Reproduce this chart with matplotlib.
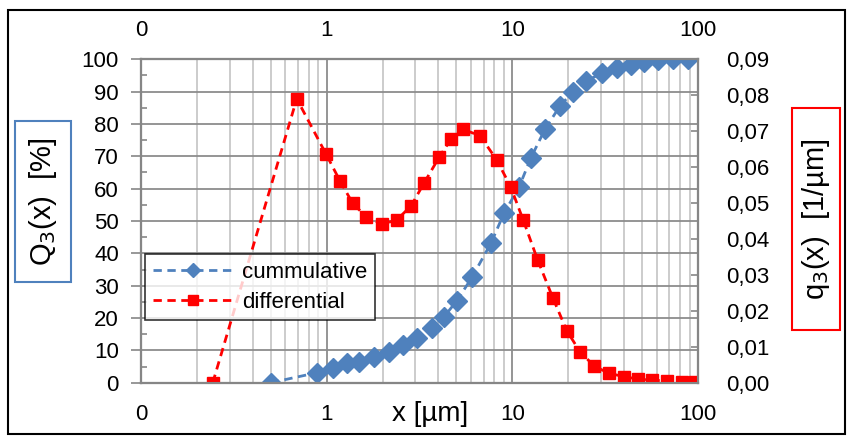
import matplotlib
matplotlib.use("Agg")
import matplotlib.pyplot as plt
from matplotlib.patches import Rectangle
from matplotlib.ticker import FixedLocator, FixedFormatter, NullFormatter

plt.rcParams['font.family'] = ['Liberation Sans', 'DejaVu Sans']

# particle size distribution data
x_cum = [0.50, 0.888, 1.083, 1.288, 1.494, 1.80, 2.168, 2.579, 3.068, 3.694,
         4.288, 5.037, 6.067, 7.68, 9.02, 10.87, 12.61, 15.0, 18.07, 21.23,
         24.95, 30.41, 36.63, 43.58, 51.2, 60.9, 73.3, 88.3]
q_cum = [0.0, 3.1, 4.5, 6.1, 6.5, 7.9, 9.6, 11.7, 13.8, 16.8,
         20.4, 25.4, 32.6, 43.2, 52.4, 60.5, 69.6, 78.4, 85.6, 90.0,
         93.3, 95.7, 97.4, 98.2, 99.1, 99.8, 100.0, 100.0]

x_diff = [0.2435, 0.690, 0.993, 1.181, 1.382, 1.630, 1.988, 2.385, 2.848, 3.358,
          4.030, 4.660, 5.447, 6.703, 8.241, 9.80, 11.42, 13.70, 16.50, 19.63,
          23.15, 27.65, 33.18, 39.96, 47.34, 56.33, 67.86, 81.7, 96.3]
q_diff = [0.0, 0.0790, 0.0636, 0.0561, 0.0499, 0.0462, 0.0441, 0.0453, 0.0492, 0.0557,
          0.0627, 0.0677, 0.0705, 0.0687, 0.0620, 0.0545, 0.0454, 0.0341, 0.0237, 0.0145,
          0.0086, 0.0046, 0.0026, 0.0017, 0.0010, 0.0007, 0.0005, 0.0002, 0.0001]

x_tick_vals = [0.1, 1, 10, 100]
x_tick_labels = ["0", "1", "10", "100"]
left_ticks = list(range(0, 101, 10))
right_ticks = [i / 100 for i in range(10)]
right_labels = [f"{v:.2f}".replace(".", ",") for v in right_ticks]

BLUE = "#4F81BD"
RED = "#FF0000"
GRID_DARK = "#8C8C8C"
GRID_LIGHT = "#C8C8C8"
SPINE = "#868686"
FS = 16

W, H = 848, 436
fig = plt.figure(figsize=(W / 100, H / 100), dpi=100)
L, R, T, B = 141, 698, 59.3, 382.7
ax = fig.add_axes([L / W, 1 - B / H, (R - L) / W, (B - T) / H])

ax.set_xscale("log")
ax.set_xlim(0.1, 100)
ax.set_ylim(0, 100)

# grid: light minor verticals, darker decade verticals and horizontals
minor_x = [m * 10.0 ** e for e in (-1, 0, 1) for m in range(2, 10)]
for xv in minor_x:
    ax.axvline(xv, color=GRID_LIGHT, lw=1.3, zorder=0)
for xv in x_tick_vals:
    ax.axvline(xv, color=GRID_DARK, lw=1.3, zorder=0)
for yv in left_ticks:
    ax.axhline(yv, color=GRID_DARK, lw=1.3, zorder=0)

line_c, = ax.plot(x_cum, q_cum, linestyle=(0, (3, 2)), color=BLUE, lw=2,
                  marker="D", markersize=10, markerfacecolor=BLUE,
                  markeredgecolor=BLUE, label="cummulative", zorder=3)

ax2 = ax.twinx()
ax2.set_ylim(0, 0.09)
line_d, = ax2.plot(x_diff, q_diff, linestyle=(0, (3, 2)), color=RED, lw=2,
                   marker="s", markersize=8.5, markerfacecolor=RED,
                   markeredgecolor=RED, label="differential", zorder=3)
ax2.yaxis.set_major_locator(FixedLocator(right_ticks))
ax2.yaxis.set_major_formatter(FixedFormatter(right_labels))
ax2.tick_params(axis="y", direction="in", length=5, width=1.2, color=SPINE,
                pad=20, labelsize=FS)

ax3 = ax.twiny()
ax3.set_xscale("log")
ax3.set_xlim(0.1, 100)
ax3.xaxis.set_major_locator(FixedLocator(x_tick_vals))
ax3.xaxis.set_major_formatter(FixedFormatter(x_tick_labels))
ax3.xaxis.set_minor_formatter(NullFormatter())
ax3.tick_params(axis="x", which="both", length=0, pad=13, labelsize=FS)

# bottom and left axes of the main plot
ax.xaxis.set_major_locator(FixedLocator(x_tick_vals))
ax.xaxis.set_major_formatter(FixedFormatter(x_tick_labels))
ax.xaxis.set_minor_formatter(NullFormatter())
ax.tick_params(axis="x", which="both", length=0, pad=15, labelsize=FS)
ax.yaxis.set_major_locator(FixedLocator(left_ticks))
ax.yaxis.set_minor_locator(FixedLocator([v + 5 for v in range(0, 100, 10)]))
ax.tick_params(axis="y", which="major", direction="out", length=7, width=1.2,
               color=SPINE, pad=9, labelsize=FS, left=True, labelleft=True)
ax.tick_params(axis="y", which="minor", direction="in", length=4, width=1.2,
               color=SPINE)

for a in (ax, ax2, ax3):
    for s in a.spines.values():
        s.set_color(SPINE)
        s.set_linewidth(1.5)

fig.text(430 / W, 1 - 414 / H, "x [µm]", fontsize=20, ha="center", va="center")

# boxed axis titles
def boxed_label(x0, y0, x1, y1, text, color):
    fig.add_artist(Rectangle((x0 / W, 1 - y1 / H), (x1 - x0) / W, (y1 - y0) / H,
                             transform=fig.transFigure, fill=False,
                             edgecolor=color, lw=1.5))
    fig.text((x0 + x1) / 2 / W, 1 - (y0 + y1) / 2 / H, text, fontsize=21,
             rotation=90, ha="center", va="center")

boxed_label(15, 121, 71, 282, r"Q$_3$(x)  [%]", BLUE)
boxed_label(792, 108, 840, 330, r"q$_3$(x)  [1/µm]", RED)

leg = fig.legend(handles=[line_c, line_d], loc="upper left",
                 bbox_to_anchor=(145 / W, 1 - 254 / H), borderaxespad=0,
                 fontsize=16, frameon=True, fancybox=False, edgecolor="black",
                 handlelength=3.6, handletextpad=0.4, borderpad=0.35,
                 labelspacing=0.4, numpoints=1)
leg.get_frame().set_linewidth(1.2)
for h in leg.legend_handles:
    h.set_markersize(7)

# chart border
fig.add_artist(Rectangle((8 / W, 2 / H), (845 - 8) / W, (426 - 2) / H,
                         transform=fig.transFigure, fill=False,
                         edgecolor="black", lw=1.5))

fig.savefig("out.png", dpi=100)
